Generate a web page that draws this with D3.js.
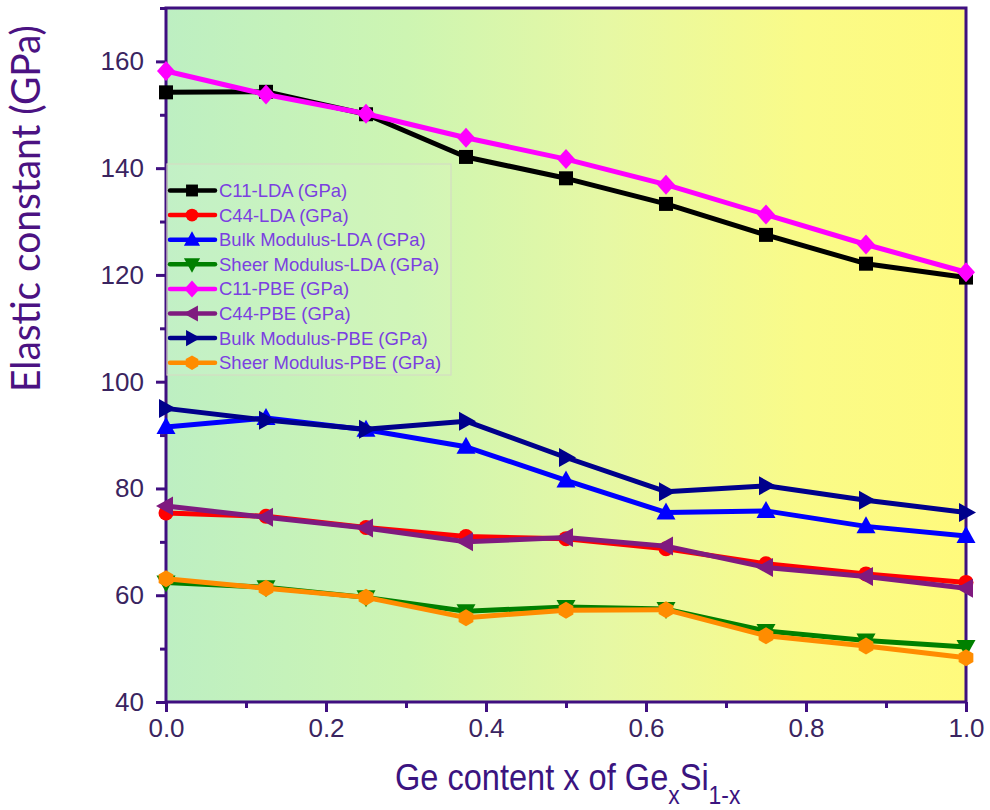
<!DOCTYPE html>
<html><head><meta charset="utf-8">
<script src="https://cdn.jsdelivr.net/npm/d3@7"></script>
<style>body{margin:0;background:#fff}</style>
</head><body>
<svg id="chart" width="990" height="810"></svg>
<script>
// Elastic constants of Ge(x)Si(1-x) alloys, LDA and PBE
const geContent = [0, 0.125, 0.25, 0.375, 0.5, 0.625, 0.75, 0.875, 1.0];
const c11LDA   = [154.2, 154.3, 150.1, 142.1, 138.1, 133.3, 127.5, 122.1, 119.5];
const c44LDA   = [75.4, 74.8, 72.7, 71.0, 70.6, 68.7, 65.9, 64.0, 62.4];
const bulkLDA  = [91.5, 93.2, 91.0, 87.8, 81.5, 75.5, 75.8, 72.9, 71.1];
const sheerLDA = [62.4, 61.5, 59.6, 57.0, 57.8, 57.4, 53.3, 51.5, 50.3];
const c11PBE   = [158.2, 153.8, 150.2, 145.7, 141.7, 136.9, 131.3, 125.7, 120.5];
const c44PBE   = [76.7, 74.6, 72.6, 70.0, 70.8, 69.2, 65.2, 63.5, 61.3];
const bulkPBE  = [95.0, 92.8, 91.1, 92.6, 85.8, 79.4, 80.5, 77.8, 75.5];
const sheerPBE = [63.1, 61.3, 59.6, 55.8, 57.2, 57.3, 52.4, 50.5, 48.3];

const seriesLabels = ["C11-LDA (GPa)", "C44-LDA (GPa)", "Bulk Modulus-LDA (GPa)", "Sheer Modulus-LDA (GPa)",
                      "C11-PBE (GPa)", "C44-PBE (GPa)", "Bulk Modulus-PBE (GPa)", "Sheer Modulus-PBE (GPa)"];
const seriesValues = [c11LDA, c44LDA, bulkLDA, sheerLDA, c11PBE, c44PBE, bulkPBE, sheerPBE];
const seriesColors = ["#000000", "#ff0000", "#0000ff", "#008000", "#ff00ff", "#7f1a7f", "#00008b", "#ff8c00"];
const seriesMarkers = ["square", "circle", "up", "down", "diamond", "left", "right", "hexagon"];

const yMajorTicks = [40, 60, 80, 100, 120, 140, 160];
const yMinorTicks = [50, 70, 90, 110, 130, 150, 170];
const xMajorTicks = [0, 0.2, 0.4, 0.6, 0.8, 1.0];
const xMinorTicks = [0.1, 0.3, 0.5, 0.7, 0.9];

const svg = d3.select("#chart");
const plot = {left: 166, right: 966, top: 8, bottom: 702};
const x = d3.scaleLinear().domain([0, 1]).range([plot.left, plot.right]);
const y = d3.scaleLinear().domain([40, 170]).range([plot.bottom, plot.top]);
const axisColor = "#3f0f80";

// background gradient
const defs = svg.append("defs");
const grad = defs.append("linearGradient").attr("id", "bg").attr("x1", "0").attr("x2", "1").attr("y1", "0").attr("y2", "0");
[[0, "#bdefc2"], [0.3, "#cdf5b2"], [0.55, "#e6f8a4"], [0.8, "#fafb88"], [1, "#fffa7c"]]
  .forEach(([o, c]) => grad.append("stop").attr("offset", o).attr("stop-color", c));
svg.append("rect").attr("x", plot.left).attr("y", plot.top)
  .attr("width", plot.right - plot.left).attr("height", plot.bottom - plot.top).attr("fill", "url(#bg)");

function markerPath(type, s) {
  const p = d3.path();
  const poly = pts => { p.moveTo(pts[0][0], pts[0][1]); pts.slice(1).forEach(q => p.lineTo(q[0], q[1])); p.closePath(); };
  switch (type) {
    case "square": poly([[-7*s,-7*s],[7*s,-7*s],[7*s,7*s],[-7*s,7*s]]); break;
    case "circle": p.arc(0, 0, 7.5*s, 0, 2*Math.PI); break;
    case "up": poly([[0,-10*s],[9.5*s,7*s],[-9.5*s,7*s]]); break;
    case "down": poly([[0,10*s],[9.5*s,-7*s],[-9.5*s,-7*s]]); break;
    case "left": poly([[-10*s,0],[7*s,-9.5*s],[7*s,9.5*s]]); break;
    case "right": poly([[10*s,0],[-7*s,-9.5*s],[-7*s,9.5*s]]); break;
    case "diamond": poly([[0,-10*s],[9*s,0],[0,10*s],[-9*s,0]]); break;
    case "hexagon": poly(d3.range(6).map(k => { const a = Math.PI/2 + k*Math.PI/3; return [8.5*s*Math.cos(a), 8.5*s*Math.sin(a)]; })); break;
  }
  return p.toString();
}

// axes
svg.append("g").attr("transform", `translate(${plot.left},0)`)
  .call(d3.axisLeft(y).tickValues(yMajorTicks).tickSize(10).tickPadding(12).tickFormat(d3.format("d")));
svg.append("g").attr("transform", `translate(${plot.left},0)`)
  .call(d3.axisLeft(y).tickValues(yMinorTicks).tickSize(6).tickFormat(""));
svg.append("g").attr("transform", `translate(0,${plot.bottom})`)
  .call(d3.axisBottom(x).tickValues(xMajorTicks).tickSize(10).tickPadding(7).tickFormat(d3.format(".1f")));
svg.append("g").attr("transform", `translate(0,${plot.bottom})`)
  .call(d3.axisBottom(x).tickValues(xMinorTicks).tickSize(6).tickFormat(""));
svg.selectAll(".domain").remove();
svg.selectAll(".tick line").attr("stroke", axisColor).attr("stroke-width", 3);
svg.selectAll(".tick text").attr("fill", "#3a2460").attr("font-family", "Liberation Sans, Arial, sans-serif")
  .attr("font-size", 26);

// frame
svg.append("rect").attr("x", plot.left).attr("y", plot.top)
  .attr("width", plot.right - plot.left).attr("height", plot.bottom - plot.top)
  .attr("fill", "none").attr("stroke", axisColor).attr("stroke-width", 3);

// series
const line = d3.line().x((d, i) => x(geContent[i])).y(d => y(d));
seriesValues.forEach((vals, si) => {
  const g = svg.append("g");
  g.append("path").datum(vals).attr("d", line).attr("fill", "none")
    .attr("stroke", seriesColors[si]).attr("stroke-width", 5).attr("stroke-linejoin", "round");
  g.selectAll("path.m").data(vals).enter().append("path").attr("class", "m")
    .attr("transform", (d, i) => `translate(${x(geContent[i])},${y(d)})`)
    .attr("d", markerPath(seriesMarkers[si], 1)).attr("fill", seriesColors[si]);
});

// legend
const legend = svg.append("g");
legend.append("rect").attr("x", plot.left + 1).attr("y", 164).attr("width", 284).attr("height", 211)
  .attr("fill", "#ffffff").attr("fill-opacity", 0.08).attr("stroke", "#d4dcc4").attr("stroke-width", 1.2);
seriesLabels.forEach((lab, i) => {
  const cy = 190.5 + i * 24.6;
  legend.append("line").attr("x1", 170).attr("x2", 215).attr("y1", cy).attr("y2", cy)
    .attr("stroke", seriesColors[i]).attr("stroke-width", 4.5).attr("stroke-linecap", "round");
  legend.append("path").attr("transform", `translate(192,${cy})`).attr("d", markerPath(seriesMarkers[i], 0.85))
    .attr("fill", seriesColors[i]);
  legend.append("text").attr("x", 219).attr("y", cy + 6.5).text(lab)
    .attr("font-family", "Liberation Sans, Arial, sans-serif").attr("font-size", 18.5).attr("fill", "#7b3fe0");
});

// axis titles
svg.append("text").attr("transform", "translate(40,208.5) rotate(-90)").attr("text-anchor", "middle")
  .attr("font-family", "Lato, sans-serif").attr("font-size", 40).attr("fill", "#4b1282")
  .attr("textLength", 367).attr("lengthAdjust", "spacingAndGlyphs").text("Elastic constant (GPa)");

const xt = svg.append("text").attr("transform", "translate(395,790) scale(0.88,1)")
  .attr("font-family", "Liberation Sans, Arial, sans-serif").attr("font-size", 37).attr("fill", "#3b1480");
xt.append("tspan").text("Ge content x of Ge");
xt.append("tspan").attr("font-size", 26).attr("dy", 14).text("x");
xt.append("tspan").attr("dy", -14).text("Si");
xt.append("tspan").attr("font-size", 26).attr("dy", 14).text("1-x");
</script>
</body></html>
